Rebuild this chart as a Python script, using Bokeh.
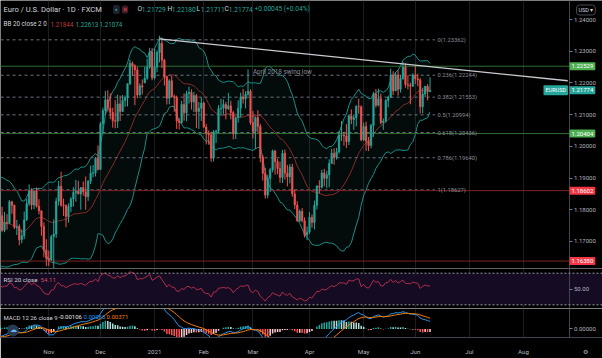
import numpy as np
import pandas as pd
from bokeh.plotting import figure
from bokeh.layouts import column
from bokeh.models import (Range1d, FixedTicker, PrintfTickFormatter, Label, Span,
                          BoxAnnotation, ColumnDataSource, LinearAxis)
from bokeh.core.properties import value
from bokeh.embed import file_html
from bokeh.resources import INLINE

# ---------------- data ----------------
HOLIDAYS = ["2020-12-25", "2021-01-01"]
ORIGIN = "2020-11-02"
LAST_BAR = "2021-06-09"
HISTORY_START = "2020-08-03"

# closes before the visible window (needed by BB / RSI / MACD)
warmup_closes = [
    1.1761, 1.1800, 1.1864, 1.1877, 1.1785, 1.1737, 1.1739, 1.1786, 1.1812, 1.1842,
    1.1870, 1.1930, 1.1836, 1.1860, 1.1796, 1.1792, 1.1834, 1.1830, 1.1820, 1.1903, 1.1937,
    1.1914, 1.1855, 1.1850, 1.1838, 1.1818, 1.1781, 1.1801, 1.1814, 1.1845, 1.1864,
    1.1846, 1.1815, 1.1850, 1.1838, 1.1770, 1.1704, 1.1661, 1.1672, 1.1631, 1.1665,
    1.1745, 1.1721,
    1.1747, 1.1715,
]

opens = [
    1.1715, 1.1781, 1.1735, 1.1760, 1.1757, 1.1825, 1.1814, 1.1745, 1.1747, 1.1705,
    1.1718, 1.1768, 1.1819, 1.1860, 1.1815, 1.1859, 1.1811, 1.1796, 1.1747, 1.1673,
    1.1646, 1.1641, 1.1715, 1.1723, 1.1827, 1.1874, 1.1815, 1.1813, 1.1779, 1.1810,
    1.1834, 1.1854, 1.1858, 1.1850, 1.1870, 1.1857, 1.1841, 1.1890, 1.1915, 1.1917, 1.1962,
    1.1927, 1.2071, 1.2113, 1.2147, 1.2120, 1.2107, 1.2081, 1.2079, 1.2134, 1.2110,
    1.2145, 1.2153, 1.2197, 1.2262, 1.2254, 1.2241, 1.2162, 1.2191, 1.2200, 1.2215, 1.2250, 1.2298,
    1.2216, 1.2250, 1.2296, 1.2325, 1.2272, 1.2219, 1.2152, 1.2207, 1.2157, 1.2154,
    1.2080, 1.2075, 1.2132, 1.2106, 1.2166, 1.2170, 1.2140, 1.2160, 1.2110, 1.2120,
    1.2137, 1.2061, 1.2041, 1.2036, 1.1963, 1.2046, 1.2049, 1.2119, 1.2121, 1.2132,
    1.2119, 1.2128, 1.2107, 1.2040, 1.2090, 1.2120, 1.2156, 1.2150, 1.2164, 1.2174,
    1.2075, 1.2047, 1.2091, 1.2063, 1.1966, 1.1915, 1.1846, 1.1899, 1.1926, 1.1985,
    1.1952, 1.1930, 1.1902, 1.1978, 1.1916, 1.1904, 1.1935, 1.1850, 1.1815, 1.1765, 1.1795, 1.1765, 1.1720,
    1.1730, 1.1776, 1.1760, 1.1814, 1.1874, 1.1871, 1.1916, 1.1899, 1.1910, 1.1946,
    1.1978, 1.1965, 1.1983, 1.2035, 1.2036, 1.2033, 1.2015, 1.2096, 1.2085, 1.2090, 1.2126, 1.2125,
    1.2020, 1.2063, 1.2016, 1.2003, 1.2066, 1.2165, 1.2130, 1.2150, 1.2075, 1.2080,
    1.2145, 1.2155, 1.2225, 1.2175, 1.2225, 1.2180, 1.2214, 1.2250, 1.2195, 1.2193, 1.2190,
    1.2225, 1.2213, 1.2210, 1.2125, 1.2165, 1.2190, 1.21729,
]
highs = [
    1.1797, 1.1809, 1.1793, 1.1786, 1.1831, 1.1828, 1.1816, 1.1768, 1.1754, 1.1738,
    1.1794, 1.1834, 1.1880, 1.1868, 1.1860, 1.1870, 1.1833, 1.1799, 1.1760, 1.1707,
    1.1671, 1.1721, 1.1769, 1.1838, 1.1891, 1.1920, 1.1835, 1.1817, 1.1820, 1.1840,
    1.1871, 1.1894, 1.1891, 1.1871, 1.1889, 1.1905, 1.1893, 1.1939, 1.1941, 1.1966, 1.2003,
    1.2077, 1.2122, 1.2175, 1.2177, 1.2167, 1.2122, 1.2146, 1.2163, 1.2160, 1.2162,
    1.2160, 1.2199, 1.2273, 1.2268, 1.2259, 1.2250, 1.2199, 1.2211, 1.2251, 1.2276, 1.2311, 1.2310,
    1.2309, 1.2303, 1.2349, 1.2342, 1.2276, 1.2223, 1.2212, 1.2222, 1.2164, 1.2160,
    1.2089, 1.2144, 1.2167, 1.2175, 1.2188, 1.2180, 1.2172, 1.2165, 1.2140, 1.2155,
    1.2141, 1.2071, 1.2050, 1.2044, 1.2051, 1.2052, 1.2130, 1.2150, 1.2148, 1.2140,
    1.2169, 1.2144, 1.2112, 1.2093, 1.2145, 1.2169, 1.2181, 1.2174, 1.2243, 1.2180,
    1.2112, 1.2094, 1.2114, 1.2071, 1.1973, 1.1932, 1.1910, 1.1932, 1.1990, 1.1989,
    1.1960, 1.1952, 1.1989, 1.1990, 1.1941, 1.1944, 1.1945, 1.1864, 1.1827, 1.1801, 1.1805, 1.1776, 1.1747,
    1.1792, 1.1785, 1.1829, 1.1878, 1.1893, 1.1926, 1.1929, 1.1923, 1.1959, 1.1992,
    1.1994, 1.1995, 1.2049, 1.2080, 1.2046, 1.2070, 1.2099, 1.2117, 1.2100, 1.2130, 1.2150, 1.2129,
    1.2075, 1.2078, 1.2030, 1.2071, 1.2172, 1.2181, 1.2182, 1.2166, 1.2088, 1.2149,
    1.2160, 1.2245, 1.2237, 1.2234, 1.2240, 1.2226, 1.2266, 1.2262, 1.2224, 1.2201, 1.2231,
    1.2255, 1.2229, 1.2215, 1.2185, 1.2190, 1.2196, 1.22180,
]
lows = [
    1.1710, 1.1730, 1.1729, 1.1737, 1.1755, 1.1787, 1.1739, 1.1720, 1.1688, 1.1694,
    1.1707, 1.1765, 1.1812, 1.1800, 1.1802, 1.1807, 1.1785, 1.1718, 1.1650, 1.1622,
    1.1622, 1.1639, 1.1603, 1.1711, 1.1813, 1.1809, 1.1780, 1.1745, 1.1759, 1.1792,
    1.1810, 1.1825, 1.1848, 1.1800, 1.1844, 1.1800, 1.1828, 1.1881, 1.1902, 1.1905, 1.1924,
    1.1925, 1.2040, 1.2101, 1.2110, 1.2086, 1.2059, 1.2057, 1.2058, 1.2080, 1.2109,
    1.2125, 1.2126, 1.2194, 1.2222, 1.2130, 1.2152, 1.2160, 1.2164, 1.2200, 1.2210, 1.2245, 1.2209,
    1.2211, 1.2234, 1.2265, 1.2247, 1.2192, 1.2132, 1.2133, 1.2154, 1.2109, 1.2055,
    1.2053, 1.2071, 1.2081, 1.2079, 1.2135, 1.2116, 1.2108, 1.2058, 1.2055, 1.2080,
    1.2058, 1.2006, 1.2005, 1.1951, 1.1952, 1.2011, 1.2042, 1.2097, 1.2102, 1.2085,
    1.2115, 1.2085, 1.2022, 1.2023, 1.2075, 1.2091, 1.2135, 1.2120, 1.2160, 1.2068,
    1.2025, 1.1992, 1.2043, 1.1950, 1.1892, 1.1835, 1.1836, 1.1856, 1.1918, 1.1911,
    1.1912, 1.1885, 1.1884, 1.1895, 1.1874, 1.1883, 1.1841, 1.1802, 1.1762, 1.1762, 1.1760, 1.1712, 1.1704,
    1.1724, 1.1743, 1.1738, 1.1801, 1.1851, 1.1867, 1.1874, 1.1868, 1.1871, 1.1945,
    1.1942, 1.1958, 1.1977, 1.2017, 1.2002, 1.1995, 1.2004, 1.2070, 1.2052, 1.2063, 1.2103, 1.2016,
    1.2017, 1.1986, 1.1985, 1.1994, 1.2030, 1.2122, 1.2126, 1.2069, 1.2052, 1.2075,
    1.2123, 1.2153, 1.2162, 1.2175, 1.2160, 1.2170, 1.2210, 1.2185, 1.2180, 1.2133, 1.2187,
    1.2197, 1.2190, 1.2104, 1.2104, 1.2155, 1.2145, 1.21711,
]
closes = [
    1.1781, 1.1735, 1.1760, 1.1757, 1.1825, 1.1814, 1.1745, 1.1747, 1.1705, 1.1718,
    1.1768, 1.1819, 1.1860, 1.1815, 1.1859, 1.1811, 1.1796, 1.1747, 1.1673, 1.1646,
    1.1641, 1.1715, 1.1723, 1.1827, 1.1874, 1.1815, 1.1813, 1.1779, 1.1810, 1.1834,
    1.1854, 1.1858, 1.1850, 1.1870, 1.1857, 1.1841, 1.1890, 1.1915, 1.1917, 1.1962, 1.1927,
    1.2071, 1.2113, 1.2147, 1.2120, 1.2107, 1.2081, 1.2079, 1.2134, 1.2110, 1.2145,
    1.2153, 1.2197, 1.2262, 1.2254, 1.2241, 1.2162, 1.2191, 1.2187, 1.2215, 1.2250, 1.2298, 1.2216,
    1.2250, 1.2296, 1.2325, 1.2272, 1.2219, 1.2152, 1.2207, 1.2157, 1.2154, 1.2080,
    1.2075, 1.2132, 1.2106, 1.2166, 1.2170, 1.2140, 1.2160, 1.2110, 1.2120, 1.2137,
    1.2061, 1.2041, 1.2036, 1.1963, 1.2046, 1.2049, 1.2119, 1.2121, 1.2132, 1.2119,
    1.2128, 1.2107, 1.2040, 1.2090, 1.2120, 1.2156, 1.2150, 1.2164, 1.2174, 1.2075,
    1.2047, 1.2091, 1.2063, 1.1966, 1.1915, 1.1846, 1.1899, 1.1926, 1.1985, 1.1952,
    1.1930, 1.1902, 1.1978, 1.1916, 1.1904, 1.1935, 1.1850, 1.1815, 1.1765, 1.1795, 1.1765, 1.1720, 1.1730,
    1.1776, 1.1760, 1.1814, 1.1874, 1.1871, 1.1916, 1.1899, 1.1910, 1.1946, 1.1978,
    1.1965, 1.1983, 1.2035, 1.2036, 1.2033, 1.2015, 1.2096, 1.2085, 1.2090, 1.2126, 1.2125, 1.2020,
    1.2063, 1.2016, 1.2003, 1.2066, 1.2165, 1.2130, 1.2150, 1.2075, 1.2080, 1.2145,
    1.2155, 1.2225, 1.2175, 1.2225, 1.2180, 1.2214, 1.2250, 1.2195, 1.2193, 1.2190, 1.2225,
    1.2213, 1.2210, 1.2125, 1.2165, 1.2190, 1.2173, 1.21774,
]

month_tick_dates = ["2020-11-02", "2020-12-01", "2021-01-04", "2021-02-01", "2021-03-01",
                    "2021-04-01", "2021-05-03", "2021-06-01", "2021-07-01", "2021-08-02"]
month_tick_labels = ["Nov", "Dec", "2021", "Feb", "Mar", "Apr", "May", "Jun", "Jul", "Aug"]
price_ticks = [1.17, 1.18, 1.19, 1.20, 1.21, 1.22, 1.23, 1.24]

fib_levels = ["0", "0.236", "0.382", "0.5", "0.618", "0.786", "1"]
fib_prices = [1.23362, 1.22244, 1.21553, 1.20994, 1.20436, 1.19640, 1.18627]
fib_dates = ["2020-09-01", "2021-06-11"]

green_levels = [1.22529, 1.20404]
red_levels = [1.18602, 1.16380]
trend_dates = ["2021-01-06", "2021-08-26"]
trend_prices = [1.2339, 1.2207]

last_price = 1.21774

# ---------------- helpers ----------------
def bar_x(d):
    return np.busday_count(ORIGIN, np.array(d, dtype="datetime64[D]"), holidays=HOLIDAYS)

all_dates = pd.bdate_range(HISTORY_START, LAST_BAR, freq="C", holidays=HOLIDAYS)
n_warm = len(warmup_closes)
assert len(all_dates) == n_warm + len(closes), (len(all_dates), n_warm + len(closes))
assert len(opens) == len(highs) == len(lows) == len(closes)
x_all = bar_x(all_dates.values.astype("datetime64[D]")).astype(float)
x_vis = x_all[n_warm:]

close_s = pd.Series(warmup_closes + closes, dtype=float)
# Bollinger Bands (20, 2)
bb_mid = close_s.rolling(20).mean()
bb_sd = close_s.rolling(20).std(ddof=0)
bb_up = bb_mid + 2 * bb_sd
bb_lo = bb_mid - 2 * bb_sd
# RSI (20, Wilder)
delta = close_s.diff()
gain = delta.clip(lower=0).ewm(alpha=1 / 20, adjust=False).mean()
loss = (-delta.clip(upper=0)).ewm(alpha=1 / 20, adjust=False).mean()
rsi = 100 - 100 / (1 + gain / loss)
# MACD (12, 26, 9)
macd = close_s.ewm(span=12, adjust=False).mean() - close_s.ewm(span=26, adjust=False).mean()
signal = macd.ewm(span=9, adjust=False).mean()
hist = macd - signal

month_x = [int(v) for v in bar_x(month_tick_dates)]

# ---------------- style / geometry ----------------
BG = "#000000"
TXT = "#b2b5be"
UP = "#26a69a"
DN = "#ef5350"
GRID = "#1b1d23"
SEP = "#40444f"
FONT = "Roboto"
PX_PER_BAR = 2.4596
X0_PX = 48.3                      # pixel of the first November bar
XR = Range1d(-X0_PX / PX_PER_BAR, (602 - X0_PX) / PX_PER_BAR)
AXIS_X = (568.5 - X0_PX) / PX_PER_BAR   # price scale sits here
W = 602


def base_fig(h, yr, xloc=None, mb_bottom=0):
    f = figure(width=W, height=h, x_range=XR, y_range=yr,
               x_axis_location=xloc, y_axis_location=None, toolbar_location=None,
               output_backend="svg", min_border_left=0, min_border_top=0,
               min_border_bottom=mb_bottom, min_border_right=0,
               background_fill_color=BG, border_fill_color=BG, outline_line_color=None)
    f.xgrid.ticker = FixedTicker(ticks=month_x)
    f.xgrid.grid_line_color = GRID
    f.ygrid.visible = False
    return f


def price_axis(f, ticks, fmt):
    ax = LinearAxis(fixed_location=AXIS_X, ticker=FixedTicker(ticks=ticks),
                    formatter=PrintfTickFormatter(format=fmt))
    ax.axis_line_color = SEP
    ax.major_tick_line_color = "#787b86"
    ax.major_tick_out = 3
    ax.major_tick_in = 0
    ax.minor_tick_line_color = None
    ax.major_label_text_font = FONT
    ax.major_label_text_font_size = "6px"
    ax.major_label_text_color = TXT
    ax.major_label_standoff = 2
    f.add_layout(ax, "right")


def lab(f, x, y, text, color=TXT, size="6.3px", bg=None, pad=0, xu="screen", border=None,
        radius=0):
    kw = dict(x=x, y=y, x_units=xu, y_units="data", text=text, text_color=color,
              text_font=FONT, text_font_size=size, text_baseline="middle", text_align="left")
    if bg is not None:
        kw.update(background_fill_color=bg, background_fill_alpha=1.0, padding=pad,
                  border_radius=radius)
    if border is not None:
        kw.update(border_line_color=border, border_line_width=1)
    f.add_layout(Label(**kw))


# ---------------- main pane ----------------
p1 = base_fig(268, Range1d(1.16145, 1.24603))
price_axis(p1, price_ticks, "%.5f")

bb_src = ColumnDataSource(dict(x=x_all[19:], up=bb_up.values[19:], lo=bb_lo.values[19:],
                               mid=bb_mid.values[19:]))
p1.varea(x="x", y1="lo", y2="up", source=bb_src, fill_color="#26a69a", fill_alpha=0.07)
p1.line("x", "up", source=bb_src, line_color="#179088", line_width=1)
p1.line("x", "lo", source=bb_src, line_color="#179088", line_width=1)
p1.line("x", "mid", source=bb_src, line_color="#8c2a2a", line_width=1)

fx = [float(v) for v in bar_x(fib_dates)]
for pr in fib_prices:
    p1.line(fx, [pr, pr], line_color="#6f7280", line_dash="3 3", line_width=1)
lv_src = ColumnDataSource(dict(
    y=green_levels + red_levels,
    col=["#2f6e31"] * len(green_levels) + ["#7d2424"] * len(red_levels)))
p1.segment(x0=XR.start, x1=AXIS_X, y0="y", y1="y", source=lv_src, line_color="col",
           line_width=1)

p1.text(x=[fx[1] + 1] * len(fib_prices), y=fib_prices,
        text=[f"{lv}({pr:.5f})" for lv, pr in zip(fib_levels, fib_prices)],
        text_font=value(FONT), text_font_size="5.8px", text_color="#8a8d97",
        text_baseline="middle")

o = np.array(opens); c = np.array(closes)
col = np.where(c >= o, UP, DN)
csrc = ColumnDataSource(dict(x=x_vis, h=highs, l=lows, top=np.maximum(o, c),
                             bot=np.minimum(o, c), col=col))
p1.segment(x0="x", y0="l", x1="x", y1="h", source=csrc, line_color="col", line_width=1)
p1.vbar(x="x", width=0.6, top="top", bottom="bot", source=csrc, fill_color="col",
        line_color="col", line_width=0.6)

tx = [float(v) for v in bar_x(trend_dates)]
p1.line(tx, trend_prices, line_color="#c9cbd1", line_width=1.3)

lab(p1, float(bar_x("2021-03-01")), 1.22362, "April 2018 swing low", color="#8a8d97",
    size="6.4px", xu="data")

# header
lab(p1, 3, 1.24319, "Euro / U.S. Dollar · 1D · FXCM", color="#d1d4dc", size="7.6px")
lab(p1, 112.5, 1.24319, "●", color=UP, size="4.5px", bg="#1e222d", pad=2, radius=2)
lab(p1, 121.5, 1.24319, "≋", color="#f7525f", size="5px", bg="#4a1c26", pad=1, radius=2)
hx = [137, 167, 196, 224]
for xx, L, v in zip(hx, ["O", "H", "L", "C"], ["1.21729", "1.22180", "1.21711", "1.21774"]):
    lab(p1, xx, 1.24319, L, color="#d1d4dc", size="6.6px")
    lab(p1, xx + 4.3, 1.24319, v, color=UP, size="6.6px")
lab(p1, 254, 1.24319, "+0.00045 (+0.04%)", color=UP, size="6.6px")
lab(p1, 3, 1.23861, "BB 20 close 2 0", color="#d1d4dc", size="6.3px")
lab(p1, 50, 1.23861, "1.21844", color="#c0393b", size="6.3px")
lab(p1, 75, 1.23861, "1.22613", color=UP, size="6.3px")
lab(p1, 99, 1.23861, "1.21074", color=UP, size="6.3px")

# price-scale badges
for pr in green_levels:
    lab(p1, 569, pr, f"{pr:.5f}", color="white", size="6px", bg="#4caf50", pad=2, radius=1)
for pr in red_levels:
    lab(p1, 569, pr, f"{pr:.5f}", color="white", size="6px", bg="#f23645", pad=2, radius=1)
lab(p1, 569, last_price, f"{last_price:.5f}", color="white", size="6px", bg=UP, pad=2, radius=1)
lab(p1, 543, last_price, "EURUSD", color="white", size="5.5px", bg=UP, pad=2, radius=1)
lab(p1, 576, 1.24303, "USD ▾", color="#d1d4dc", size="5.5px", bg=BG, pad=2,
    border="#434651", radius=3)

# ---------------- RSI pane ----------------
RSI_RANGE = Range1d(25.32, 75.95)
p2 = base_fig(40, RSI_RANGE)
price_axis(p2, [50], "%.2f")
for loc, side in ((RSI_RANGE.end, "above"), (RSI_RANGE.start, "below")):
    sep = LinearAxis(fixed_location=loc, ticker=FixedTicker(ticks=[]),
                     axis_line_color=SEP, major_tick_line_color=None,
                     minor_tick_line_color=None)
    p2.add_layout(sep, side)
p2.add_layout(BoxAnnotation(bottom=30, top=70, fill_color="#150c24", fill_alpha=1.0,
                            line_color=None, level="underlay"))
for lv in (30, 70):
    p2.add_layout(Span(location=lv, dimension="width", line_color="#9598a1",
                       line_dash="2 2", line_width=1))
p2.line(x_all, rsi.values, line_color="#b02d4a", line_width=1)
lab(p2, 3, 62.0, "RSI 20 close", color="#d1d4dc", size="6.2px")
lab(p2, 40, 62.0, "54.11", color="#d3485f", size="6.2px")

# ---------------- MACD pane ----------------
p3 = base_fig(50, Range1d(-0.00289, 0.00694), xloc="below", mb_bottom=17)
price_axis(p3, [0], "%.5f")
xa = p3.xaxis[0]
gear_x = (585 - X0_PX) / PX_PER_BAR
xa.ticker = FixedTicker(ticks=month_x + [gear_x])
overrides = {int(k): v for k, v in zip(month_x, month_tick_labels)}
overrides[gear_x] = "⚙"
xa.major_label_overrides = overrides
xa.major_label_text_font = FONT
xa.major_label_text_font_size = "6.2px"
xa.major_label_text_color = TXT
xa.axis_line_color = SEP
xa.major_tick_line_color = None
xa.minor_tick_line_color = None
xa.major_label_standoff = 4

hv = hist.values
prev = np.concatenate([[np.nan], hv[:-1]])
hcol = np.where(hv >= 0, np.where(prev < hv, "#26a69a", "#b2dfdb"),
                np.where(prev < hv, "#ffcdd2", "#ff5252"))
hsrc = ColumnDataSource(dict(x=x_all, h=hv, col=hcol))
p3.vbar(x="x", width=0.62, top="h", bottom=0, source=hsrc, fill_color="col", line_color=None)
p3.line(x_all, macd.values, line_color="#2196f3", line_width=1)
p3.line(x_all, signal.values, line_color="#f57c00", line_width=1)
lab(p3, 3, 0.00396, "MACD 12 26 close 9", color="#d1d4dc", size="6px")
lab(p3, 58, 0.00396, "-0.00106", color="#e6e6e6", size="6px")
lab(p3, 83, 0.00396, "0.00265", color="#2196f3", size="6px")
lab(p3, 106, 0.00396, "0.00371", color="#f57c00", size="6px")
lab(p3, 7, -0.00051, "☁", color="#6fb6f0", size="7px", bg="#263a52", pad=2, radius=7)

layout = column(p1, p2, p3, spacing=0)
open("out.html", "w").write(file_html(layout, INLINE))
